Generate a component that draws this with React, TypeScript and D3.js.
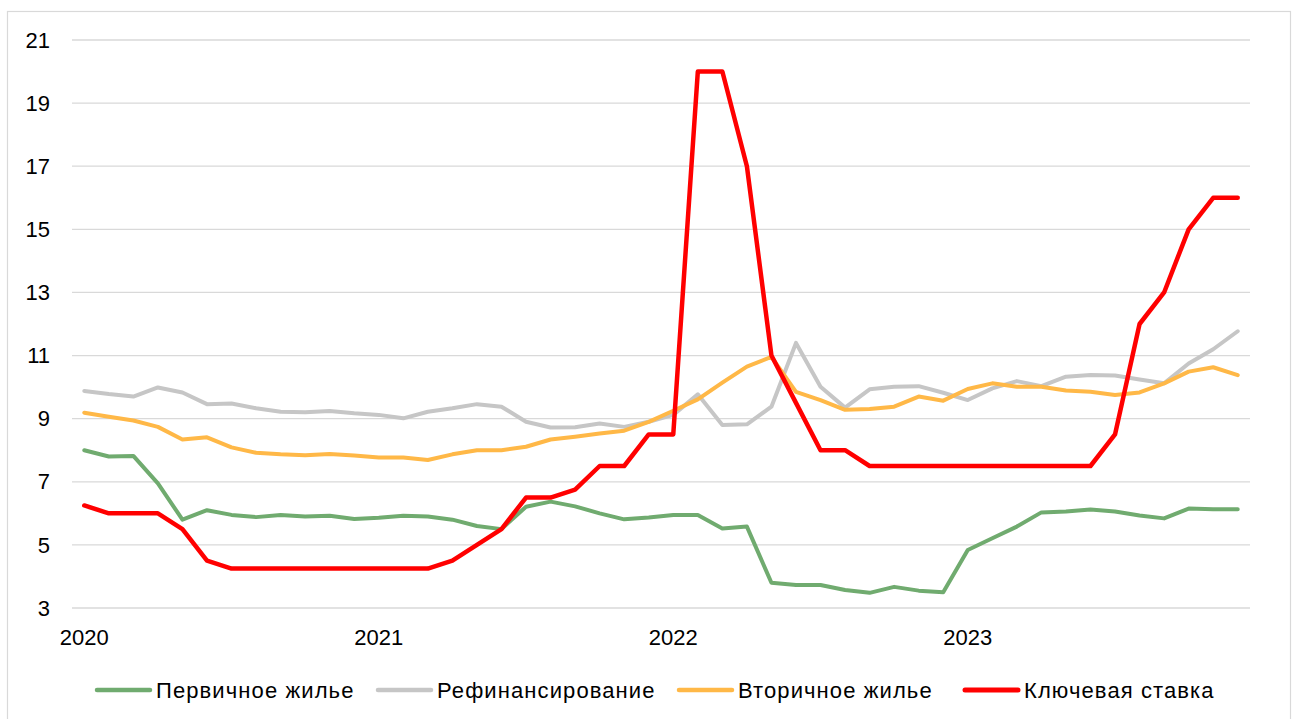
import * as d3 from 'd3';
import React from 'react';

const months = d3.range(48).map((i) => new Date(2020, i, 1));
const yearTicks = ['2020', '2021', '2022', '2023'];
const yTicks = [3, 5, 7, 9, 11, 13, 15, 17, 19, 21];

const primary = [
  8.0, 7.8, 7.82, 6.95, 5.8, 6.1, 5.95, 5.88, 5.95, 5.9, 5.92, 5.82,
  5.86, 5.92, 5.9, 5.8, 5.6, 5.5, 6.21, 6.37, 6.22, 6.0, 5.81, 5.87,
  5.95, 5.95, 5.52, 5.58, 3.8, 3.73, 3.73, 3.57, 3.48, 3.67, 3.55, 3.5,
  4.84, 5.21, 5.58, 6.03, 6.06, 6.12, 6.06, 5.93, 5.84, 6.15, 6.13, 6.13,
];
const refinancing = [
  9.88, 9.78, 9.7, 9.99, 9.83, 9.46, 9.48, 9.33, 9.22, 9.2, 9.24, 9.17,
  9.12, 9.01, 9.22, 9.33, 9.46, 9.38, 8.9, 8.72, 8.73, 8.85, 8.74, 8.9,
  9.12, 9.77, 8.8, 8.82, 9.38, 11.4, 10.01, 9.35, 9.93, 10.01, 10.03, 9.82,
  9.59, 9.96, 10.19, 10.03, 10.33, 10.38, 10.37, 10.24, 10.12, 10.75, 11.2, 11.77,
];
const secondary = [
  9.19, 9.06, 8.94, 8.74, 8.34, 8.41, 8.09, 7.92, 7.87, 7.84, 7.88, 7.83,
  7.77, 7.77, 7.69, 7.87, 8.0, 8.0, 8.11, 8.34, 8.43, 8.53, 8.62, 8.9,
  9.25, 9.61, 10.14, 10.65, 10.96, 9.85, 9.59, 9.28, 9.31, 9.38, 9.7, 9.57,
  9.94, 10.12, 10.01, 10.01, 9.89, 9.85, 9.75, 9.83, 10.12, 10.49, 10.63, 10.38,
];
const keyRate = [
  6.25, 6.0, 6.0, 6.0, 5.5, 4.5, 4.25, 4.25, 4.25, 4.25, 4.25, 4.25,
  4.25, 4.25, 4.25, 4.5, 5.0, 5.5, 6.5, 6.5, 6.75, 7.5, 7.5, 8.5,
  8.5, 20, 20, 17, 11, 9.5, 8.0, 8.0, 7.5, 7.5, 7.5, 7.5,
  7.5, 7.5, 7.5, 7.5, 7.5, 7.5, 8.5, 12, 13, 15, 16, 16,
];

const series = [
  { name: 'Первичное жилье', values: primary, color: '#70AB6F', width: 4 },
  { name: 'Рефинансирование', values: refinancing, color: '#C6C6C6', width: 4 },
  { name: 'Вторичное жилье', values: secondary, color: '#FFB847', width: 4 },
  { name: 'Ключевая ставка', values: keyRate, color: '#FF0000', width: 4.5 },
];

const W = 1292;
const H = 719;
const font = 'Arial, "Liberation Sans", sans-serif';

export default function App() {
  const x = d3
    .scalePoint<number>()
    .domain(months.map((_, i) => i))
    .range([72, 1250])
    .padding(0.5);
  const y = d3.scaleLinear().domain([3, 21]).range([608, 40]);

  const line = (vals: number[]) =>
    d3
      .line<number>()
      .x((_, i) => x(i) as number)
      .y((v) => y(v))(vals) || '';

  // legend items are laid out left to right like in the original
  const legendX = [97, 378, 679, 965];

  return (
    <svg
      width={W}
      height={H}
      style={{ position: 'absolute', left: 0, top: 0, background: '#fff' }}
      fontFamily={font}
    >
      <rect x={7.5} y={11.5} width={1283} height={720} fill="#fff" stroke="#d9d9d9" strokeWidth={1.2} />
      {yTicks.map((t) => (
        <g key={t}>
          <line x1={72} x2={1250} y1={y(t)} y2={y(t)} stroke="#d9d9d9" strokeWidth={1.3} />
          <text x={50} y={y(t)} dy="0.35em" textAnchor="end" fontSize={22} fill="#000">
            {t}
          </text>
        </g>
      ))}
      {yearTicks.map((label, k) => (
        <text key={label} x={x(k * 12) as number} y={637} dy="0.35em" textAnchor="middle" fontSize={22} fill="#000">
          {label}
        </text>
      ))}
      {series.map((s) => (
        <path
          key={s.name}
          d={line(s.values)}
          fill="none"
          stroke={s.color}
          strokeWidth={s.width}
          strokeLinejoin="round"
          strokeLinecap="round"
        />
      ))}
      {series.map((s, i) => (
        <g key={s.name} transform={`translate(${legendX[i]}, 690)`}>
          <line x1={0} x2={53} y1={0} y2={0} stroke={s.color} strokeWidth={s.width + 0.5} strokeLinecap="round" />
          <text x={59} y={0} dy="0.35em" fontSize={22} letterSpacing={1.1} fill="#000">
            {s.name}
          </text>
        </g>
      ))}
    </svg>
  );
}
